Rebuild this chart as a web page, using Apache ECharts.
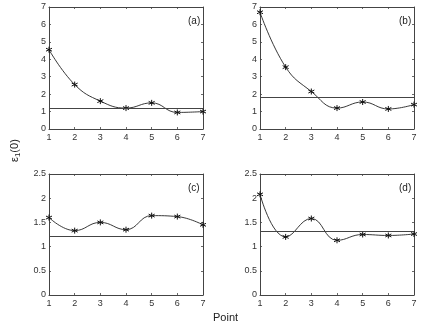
<!DOCTYPE html>
<html>
<head>
<meta charset="utf-8">
<script src="https://cdn.jsdelivr.net/npm/echarts@6/dist/echarts.min.js"></script>
<style>
  html, body { margin: 0; padding: 0; background: #fff; }
  #main { width: 422px; height: 327px; }
</style>
</head>
<body>
<div id="main"></div>
<script>
// data
const points = [1, 2, 3, 4, 5, 6, 7];
const panelNames = ['(a)', '(b)', '(c)', '(d)'];
const valsA = [4.55, 2.55, 1.6, 1.2, 1.5, 0.95, 1.0];
const valsB = [6.7, 3.55, 2.15, 1.2, 1.55, 1.15, 1.4];
const valsC = [1.6, 1.33, 1.5, 1.35, 1.64, 1.62, 1.45];
const valsD = [2.08, 1.2, 1.58, 1.13, 1.25, 1.23, 1.26];
const refLines = [1.2, 1.8, 1.22, 1.31];
const yMax = [7, 7, 2.5, 2.5];
const yStep = [1, 1, 0.5, 0.5];

const allVals = [valsA, valsB, valsC, valsD];
const grids = [
  { left: 49, top: 7, width: 154, height: 122 },
  { left: 260, top: 7, width: 154, height: 122 },
  { left: 49, top: 174, width: 154, height: 121 },
  { left: 260, top: 174, width: 154, height: 121 }
];

const boxColor = '#444';
const labelStyle = { color: '#333', fontSize: 9, fontFamily: 'Liberation Sans' };
const star = 'path://M5,0L5,10M0.67,2.5L9.33,7.5M0.67,7.5L9.33,2.5';

const xAxis = [], yAxis = [], series = [], title = [];
allVals.forEach(function (vals, i) {
  const tick = { show: true, inside: true, length: 2, lineStyle: { color: boxColor, width: 0.8 } };
  const line = { show: true, onZero: false, lineStyle: { color: boxColor, width: 1 } };
  // bottom / left axes with labels
  xAxis.push({
    type: 'value', gridIndex: i, min: 1, max: 7, interval: 1, position: 'bottom',
    axisLine: line, axisTick: tick, splitLine: { show: false },
    axisLabel: Object.assign({ margin: 4 }, labelStyle)
  });
  yAxis.push({
    type: 'value', gridIndex: i, min: 0, max: yMax[i], interval: yStep[i], position: 'left',
    axisLine: line, axisTick: tick, splitLine: { show: false },
    axisLabel: Object.assign({ margin: 3 }, labelStyle)
  });
  // top / right axes only for the box and ticks
  xAxis.push({
    type: 'value', gridIndex: i, min: 1, max: 7, interval: 1, position: 'top',
    axisLine: line, axisTick: tick, splitLine: { show: false }, axisLabel: { show: false }
  });
  yAxis.push({
    type: 'value', gridIndex: i, min: 0, max: yMax[i], interval: yStep[i], position: 'right',
    axisLine: line, axisTick: tick, splitLine: { show: false }, axisLabel: { show: false }
  });

  series.push({
    type: 'line',
    xAxisIndex: i * 2,
    yAxisIndex: i * 2,
    data: points.map(function (p, k) { return [p, vals[k]]; }),
    smooth: 0.45,
    symbol: star,
    symbolSize: 6,
    showAllSymbol: true,
    itemStyle: { color: 'rgba(0,0,0,0)', borderColor: '#111', borderWidth: 1 },
    lineStyle: { color: '#222', width: 0.9 },
    z: 3,
    markLine: {
      silent: true,
      symbol: ['none', 'none'],
      label: { show: false },
      lineStyle: { color: '#444', width: 1, type: 'solid' },
      data: [{ yAxis: refLines[i] }]
    }
  });

  title.push({
    text: panelNames[i],
    left: grids[i].left + grids[i].width - 20,
    top: grids[i].top + 4,
    textStyle: { fontSize: 10, fontWeight: 'normal', color: '#222', fontFamily: 'Liberation Sans' }
  });
});

const chart = echarts.init(document.getElementById('main'));
chart.setOption({
  animation: false,
  backgroundColor: '#fff',
  title: title,
  grid: grids,
  xAxis: xAxis,
  yAxis: yAxis,
  series: series,
  graphic: [
    {
      type: 'text',
      left: 228 - 15,
      top: 312,
      style: { text: 'Point', fontSize: 11, fill: '#222', fontFamily: 'Liberation Sans' }
    },
    {
      type: 'text',
      x: 8,
      y: 162,
      rotation: Math.PI / 2,
      style: {
        text: 'ε{s|1}(0)',
        fontSize: 11,
        fill: '#222',
        fontFamily: 'Liberation Sans',
        rich: { s: { fontSize: 8, fill: '#222', padding: [6, 0, 0, 0] } }
      }
    }
  ]
});
</script>
</body>
</html>
